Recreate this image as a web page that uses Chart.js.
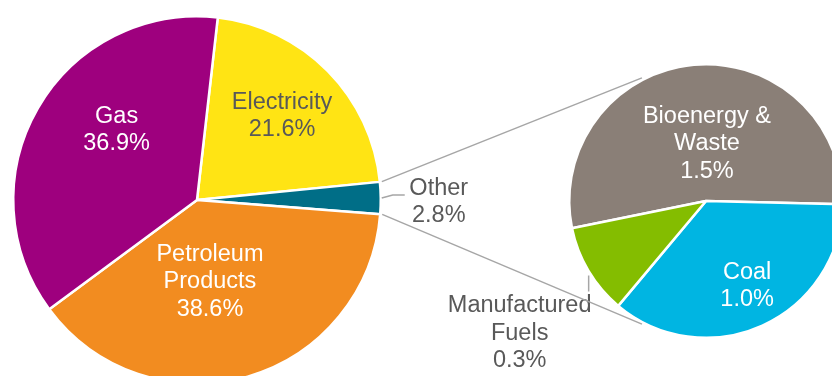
<!DOCTYPE html>
<html>
<head>
<meta charset="utf-8">
<script src="https://cdn.jsdelivr.net/npm/chart.js@4.4.0/dist/chart.umd.min.js"></script>
<style>
  html, body { margin: 0; padding: 0; background: #fff; overflow: hidden; }
  #wrap { position: relative; width: 832px; height: 376px; overflow: hidden; }
  #wrap canvas { position: absolute; left: 0; top: 0; }
</style>
</head>
<body>
<div id="wrap">
  <canvas id="main" width="860" height="420"></canvas>
  <canvas id="sub" width="860" height="420"></canvas>
</div>
<script>
// main pie, clockwise from just right of 12 o'clock
const mainLabels = [['Electricity'], ['Other'], ['Petroleum', 'Products'], ['Gas']];
const mainValues = [21.6, 2.8, 38.6, 36.9];
const mainColors = ['#FFE414', '#006E87', '#F28C20', '#9E007E'];

// breakdown of "Other"
const subLabels = [['Bioenergy &', 'Waste'], ['Coal'], ['Manufactured', 'Fuels']];
const subValues = [1.5, 1.0, 0.3];
const subColors = ['#8A7F77', '#00B5E2', '#84BD00'];

const FONT = '23.5px "Liberation Sans", Arial, sans-serif';
const DARK = '#595959';
const LINE = '#A6A6A6';
const rad = d => d * Math.PI / 180;

// where each label goes: inside (radius fraction + angle nudge) or outside with a leader
const mainPlace = [
  { r: 0.65, da: 0, color: DARK },
  { out: [57, 4], leader: [[0, 0], [11, -3], [23, -3]], color: DARK },
  { r: 0.45, da: 7, color: '#fff' },
  { r: 0.58, da: 11, color: '#fff' }
];
const subPlace = [
  { r: 0.42, da: 6, color: '#fff' },
  { r: 0.69, da: -1.5, color: '#fff' },
  { out: [-68, 62], leader: [[1, 4], [1, 20]], color: DARK }
];

const sliceLabels = {
  id: 'sliceLabels',
  afterDatasetsDraw(chart, args, opts) {
    const ctx = chart.ctx;
    const meta = chart.getDatasetMeta(0);
    const data = chart.data.datasets[0].data;
    ctx.save();
    ctx.font = FONT;
    ctx.textAlign = 'center';
    ctx.textBaseline = 'middle';
    meta.data.forEach((arc, i) => {
      const p = opts.place[i];
      const { x, y, startAngle, endAngle, outerRadius } =
        arc.getProps(['x', 'y', 'startAngle', 'endAngle', 'outerRadius'], true);
      const mid = (startAngle + endAngle) / 2;
      const lines = chart.data.labels[i].concat(data[i].toFixed(1) + '%');
      let cx, cy;
      if (p.out) {
        const ex = x + Math.cos(mid) * (outerRadius + 1);
        const ey = y + Math.sin(mid) * (outerRadius + 1);
        ctx.strokeStyle = LINE;
        ctx.lineWidth = 1.5;
        ctx.beginPath();
        p.leader.forEach((d, k) => {
          if (k === 0) ctx.moveTo(ex + d[0], ey + d[1]);
          else ctx.lineTo(ex + d[0], ey + d[1]);
        });
        ctx.stroke();
        cx = ex + p.out[0];
        cy = ey + p.out[1];
      } else {
        const a = mid + rad(p.da);
        cx = x + Math.cos(a) * outerRadius * p.r;
        cy = y + Math.sin(a) * outerRadius * p.r;
      }
      ctx.fillStyle = p.color;
      const lh = 27.5;
      lines.forEach((t, k) => ctx.fillText(t, cx, cy + (k - (lines.length - 1) / 2) * lh));
    });
    ctx.restore();
  }
};

let mainChart = null;

// lines joining the "Other" slice to the breakdown pie
const connectors = {
  id: 'connectors',
  afterDraw(chart) {
    if (!mainChart) return;
    const other = mainChart.getDatasetMeta(0).data[1];
    const o = other.getProps(['x', 'y', 'startAngle', 'endAngle', 'outerRadius'], true);
    const s = chart.getDatasetMeta(0).data[0].getProps(['x', 'y', 'outerRadius'], true);
    const ends = [[o.startAngle, rad(-117.5)], [o.endAngle, rad(117.5)]];
    const ctx = chart.ctx;
    ctx.save();
    ctx.strokeStyle = LINE;
    ctx.lineWidth = 1.5;
    ends.forEach(([a, b]) => {
      ctx.beginPath();
      ctx.moveTo(o.x + Math.cos(a) * (o.outerRadius + 2), o.y + Math.sin(a) * (o.outerRadius + 2));
      ctx.lineTo(s.x + Math.cos(b) * (s.outerRadius + 2), s.y + Math.sin(b) * (s.outerRadius + 2));
      ctx.stroke();
    });
    ctx.restore();
  }
};

const baseOptions = (rotation, padding, place) => ({
  responsive: false,
  animation: false,
  rotation: rotation,
  layout: { padding: padding },
  plugins: {
    legend: { display: false },
    tooltip: { enabled: false },
    sliceLabels: { place: place }
  }
});

mainChart = new Chart(document.getElementById('main'), {
  type: 'pie',
  data: {
    labels: mainLabels,
    datasets: [{
      data: mainValues,
      backgroundColor: mainColors,
      borderColor: '#fff',
      borderWidth: 2.5
    }]
  },
  options: baseOptions(6.5, { left: 12, top: 15, right: 478, bottom: 35 }, mainPlace),
  plugins: [sliceLabels]
});

new Chart(document.getElementById('sub'), {
  type: 'pie',
  data: {
    labels: subLabels,
    datasets: [{
      data: subValues,
      backgroundColor: subColors,
      borderColor: '#fff',
      borderWidth: 2.5
    }]
  },
  options: baseOptions(258.5, { left: 568, top: 63, right: 16, bottom: 81 }, subPlace),
  plugins: [sliceLabels, connectors]
});
</script>
</body>
</html>
